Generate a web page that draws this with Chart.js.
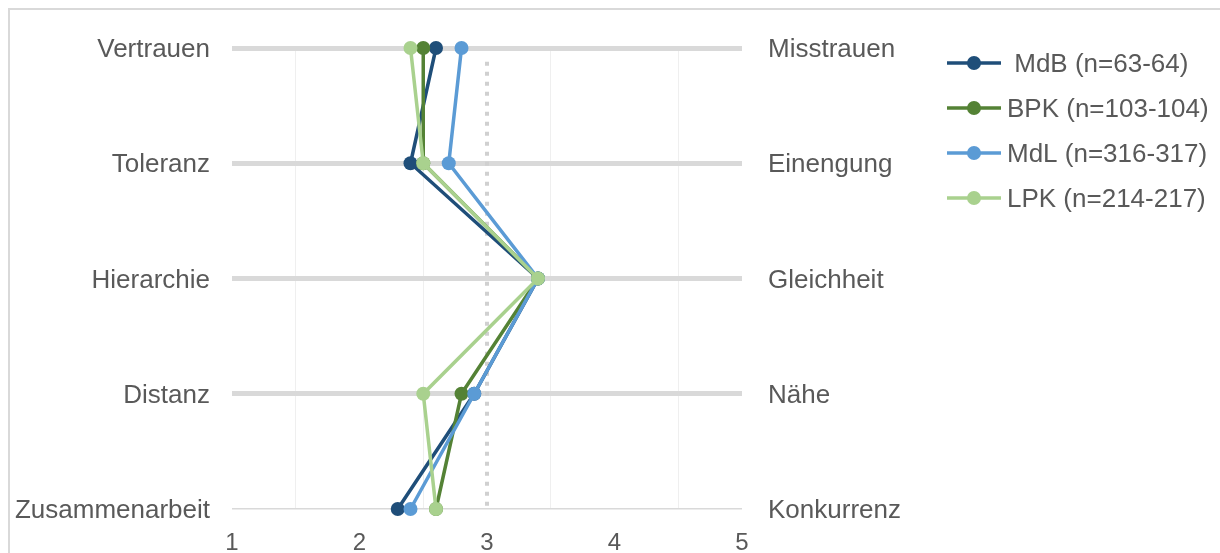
<!DOCTYPE html>
<html>
<head>
<meta charset="utf-8">
<script src="https://cdn.jsdelivr.net/npm/chart.js@4.4.1/dist/chart.umd.min.js"></script>
<style>
    html, body { margin: 0; padding: 0; background: #fff; overflow: hidden; }
    #frame { position: absolute; left: 8px; top: 8px; width: 1400px; height: 700px; border: 2px solid #d9d9d9; }
    #wrap { position: absolute; left: 0; top: 0; width: 1220px; height: 553px; }
</style>
</head>
<body>
<div id="frame"></div>
<div id="wrap"><canvas id="profile-chart"></canvas></div>
<script>
// row labels (left pole / right pole)
const leftLabels = ['Vertrauen', 'Toleranz', 'Hierarchie', 'Distanz', 'Zusammenarbeit'];
const rightLabels = ['Misstrauen', 'Einengung', 'Gleichheit', 'Nähe', 'Konkurrenz'];
const xTicks = [1, 2, 3, 4, 5];

// mean values per row
const seriesNames = [' MdB (n=63-64)', 'BPK (n=103-104)', 'MdL (n=316-317)', 'LPK (n=214-217)'];
const mdb = [2.6, 2.4, 3.4, 2.9, 2.3];
const bpk = [2.5, 2.5, 3.4, 2.8, 2.6];
const mdl = [2.8, 2.7, 3.4, 2.9, 2.4];
const lpk = [2.4, 2.5, 3.4, 2.5, 2.6];

// dotted reference line at the scale midpoint
const refX = 3;
const refFrom = 0.12;

const colors = ['#1f4e79', '#548235', '#5b9bd5', '#a9d18e'];
const textColor = '#595959';
const fontFamily = '"Liberation Sans", Arial, sans-serif';

const toPoints = function (values) {
    return values.map((v, i) => ({x: v, y: i}));
};

const makeSeries = function (idx, values, order) {
    return {
        label: seriesNames[idx],
        data: toPoints(values),
        borderColor: colors[idx],
        backgroundColor: colors[idx],
        borderWidth: 3.5,
        pointRadius: 7,
        pointHoverRadius: 7,
        pointBorderWidth: 0,
        tension: 0,
        clip: false,
        order: order
    };
};

const sideLegend = {
    id: 'sideLegend',
    afterDraw(chart) {
        const c = chart.ctx;
        c.save();
        c.font = '26px ' + fontFamily;
        c.textBaseline = 'middle';
        c.textAlign = 'left';
        seriesNames.forEach((name, i) => {
            const y = 63 + i * 45;
            c.strokeStyle = colors[i];
            c.lineWidth = 3.5;
            c.beginPath();
            c.moveTo(947, y);
            c.lineTo(1001, y);
            c.stroke();
            c.fillStyle = colors[i];
            c.beginPath();
            c.arc(974, y, 7, 0, Math.PI * 2);
            c.fill();
            c.fillStyle = textColor;
            c.fillText(name, 1007, y + 2);
        });
        c.restore();
    }
};

const profileChart = new Chart(document.getElementById('profile-chart'), {
    type: 'line',
    data: {
        datasets: [
            makeSeries(0, mdb, 4),
            makeSeries(1, bpk, 3),
            makeSeries(2, mdl, 2),
            makeSeries(3, lpk, 1),
            {
                label: 'ref',
                data: [{x: refX, y: refFrom}, {x: refX, y: leftLabels.length - 1}],
                borderColor: '#d0d0d0',
                borderWidth: 4,
                borderDash: [4, 6],
                pointRadius: 0,
                clip: false,
                order: 5
            }
        ]
    },
    options: {
        responsive: true,
        maintainAspectRatio: false,
        animation: false,
        layout: {
            padding: {top: 48, left: 0, right: 0, bottom: 0}
        },
        scales: {
            x: {
                type: 'linear',
                min: xTicks[0],
                max: xTicks[xTicks.length - 1],
                afterFit: function (scale) {
                    scale.height = 44;
                },
                border: {display: false},
                grid: {
                    drawTicks: false,
                    lineWidth: 1,
                    color: function (ctx) {
                        return Number.isInteger(ctx.tick.value) ? 'rgba(0,0,0,0)' : '#efefef';
                    }
                },
                ticks: {
                    stepSize: 0.5,
                    autoSkip: false,
                    maxRotation: 0,
                    padding: 20,
                    color: textColor,
                    font: {family: fontFamily, size: 24},
                    callback: function (value) {
                        return xTicks.includes(value) ? String(value) : '';
                    }
                }
            },
            y: {
                type: 'linear',
                position: 'left',
                reverse: true,
                min: 0,
                max: leftLabels.length - 1,
                afterFit: function (scale) {
                    scale.width = 232;
                },
                border: {display: false},
                grid: {
                    drawTicks: false,
                    color: '#d9d9d9',
                    lineWidth: function (ctx) {
                        return ctx.tick && ctx.tick.value === leftLabels.length - 1 ? 1.5 : 5;
                    }
                },
                ticks: {
                    stepSize: 1,
                    padding: 22,
                    labelOffset: 2,
                    color: textColor,
                    font: {family: fontFamily, size: 26},
                    callback: function (value) {
                        return leftLabels[value];
                    }
                }
            },
            y2: {
                type: 'linear',
                position: 'right',
                reverse: true,
                min: 0,
                max: rightLabels.length - 1,
                afterFit: function (scale) {
                    scale.width = 478;
                },
                border: {display: false},
                grid: {display: false, drawTicks: false},
                ticks: {
                    stepSize: 1,
                    padding: 26,
                    labelOffset: 2,
                    color: textColor,
                    font: {family: fontFamily, size: 26},
                    callback: function (value) {
                        return rightLabels[value];
                    }
                }
            }
        },
        plugins: {
            legend: {display: false},
            tooltip: {enabled: false},
            title: {display: false}
        }
    },
    plugins: [sideLegend]
});
</script>
</body>
</html>
